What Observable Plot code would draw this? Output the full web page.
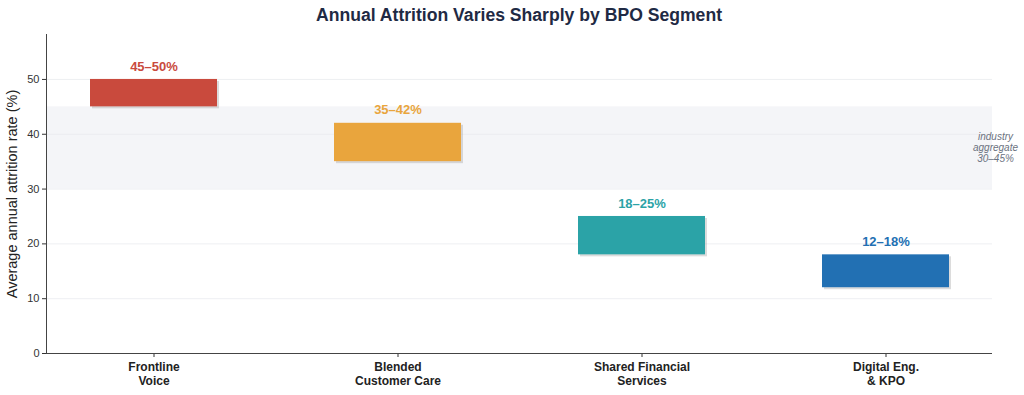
<!DOCTYPE html>
<html>
<head>
<meta charset="utf-8">
<script src="https://cdn.jsdelivr.net/npm/d3@7"></script>
<script src="https://cdn.jsdelivr.net/npm/@observablehq/plot@0.6"></script>
<style>
  body { margin: 0; background: #fff; font-family: "Liberation Sans", Arial, sans-serif; }
  #title { height: 30px; line-height: 30px; margin-left: 46px; width: 946px; text-align: center;
           font-size: 17.6px; font-weight: bold; color: #1f2a44; }
</style>
</head>
<body>
<div id="title">Annual Attrition Varies Sharply by BPO Segment</div>
<div id="chart"></div>
<script>
// BPO segments and their typical annual attrition ranges (%)
const segments = ["Frontline\nVoice", "Blended\nCustomer Care", "Shared Financial\nServices", "Digital Eng.\n& KPO"];
const lowRates = [45, 35, 18, 12];
const highRates = [50, 42, 25, 18];
const colors = ["#c94a3d", "#e9a53d", "#2ba3a7", "#2270b3"];

// Industry-wide aggregate range
const aggregateLow = 30;
const aggregateHigh = 45;
const aggregateLabel = "industry\naggregate\n30–45%";

const yTicks = [0, 10, 20, 30, 40, 50];
const yLabel = "Average annual attrition rate (%)";

const rows = segments.map((s, i) => ({
  segment: s, lo: lowRates[i], hi: highRates[i], color: colors[i],
  label: `${lowRates[i]}–${highRates[i]}%`
}));

const chart = Plot.plot({
  width: 1024,
  height: 365,
  marginLeft: 46,
  marginRight: 32,
  marginTop: 4,
  marginBottom: 42,
  style: { fontFamily: "'Liberation Sans', Arial, sans-serif", color: "#333", background: "#fff" },
  x: { domain: segments, paddingInner: 0.48, paddingOuter: 0.174, label: null },
  y: { domain: [0, 58.2], label: null },
  marks: [
    // shaded industry aggregate band
    Plot.rectY([{ y1: aggregateLow, y2: aggregateHigh }], { y1: "y1", y2: "y2", fill: "#f4f5f8" }),
    Plot.ruleY(yTicks.filter(d => d > 0), { stroke: "#e9ebef", strokeWidth: 0.8 }),
    // soft drop shadow behind each range bar
    Plot.rectY(rows, { x: "segment", y1: "lo", y2: "hi", fill: "#9a9a9a", fillOpacity: 0.35, dx: 2, dy: 2 }),
    Plot.rectY(rows, { x: "segment", y1: "lo", y2: "hi", fill: "color" }),
    Plot.text(rows, { x: "segment", y: "hi", text: "label", fill: "color", dy: -13,
                      fontSize: 13, fontWeight: "bold" }),
    Plot.text([aggregateLabel], { frameAnchor: "right", y: [(aggregateLow + aggregateHigh) / 2], dx: 3,
                      textAnchor: "middle", fontSize: 10, fontStyle: "italic", fill: "#6b7280", lineHeight: 1.1 }),
    Plot.axisY({ ticks: yTicks, tickSize: 4, tickPadding: 3, fontSize: 11, label: null }),
    Plot.axisX({ tickSize: 4, tickPadding: 4, fontSize: 12, fontWeight: "bold", fill: "#222", label: null, lineHeight: 1.15 }),
    Plot.text([yLabel], { frameAnchor: "left", textAnchor: "middle", rotate: -90, dx: -34, fontSize: 14.5, fill: "#222" }),
    Plot.frame({ anchor: "left", stroke: "#444" }),
    Plot.ruleY([0], { stroke: "#444" })
  ]
});
document.getElementById("chart").appendChild(chart);
</script>
</body>
</html>
